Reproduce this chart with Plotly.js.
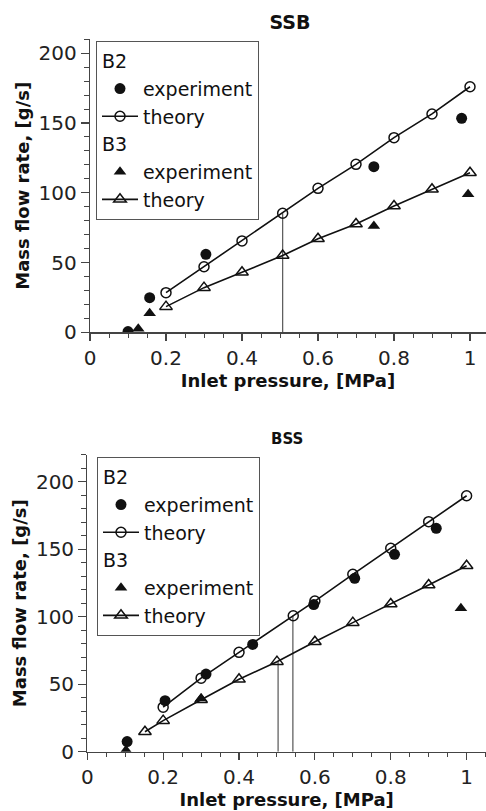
<!DOCTYPE html>
<html>
<head>
<meta charset="utf-8">
<script src="https://cdn.plot.ly/plotly-3.0.1.min.js"></script>
<style>html,body{margin:0;padding:0;background:#fff;}#chart{width:486px;height:811px;}</style>
</head>
<body>
<div id="chart"></div>
<script>
// ---- SSB panel ----
const ssbB2ExpX = [0.1, 0.157, 0.305, 0.747, 0.978];
const ssbB2ExpY = [0.5, 24.8, 55.9, 118.7, 153.4];
const ssbB2TheoryX = [0.2, 0.3, 0.4, 0.507, 0.6, 0.7, 0.8, 0.9, 1.0];
const ssbB2TheoryY = [28.4, 47, 65.5, 85.3, 103.2, 120.4, 139.5, 156.5, 176];
const ssbB3ExpX = [0.127, 0.157, 0.747, 0.995];
const ssbB3ExpY = [2.5, 13.6, 76.2, 99];
const ssbB3TheoryX = [0.2, 0.3, 0.4, 0.507, 0.6, 0.7, 0.8, 0.9, 1.0];
const ssbB3TheoryY = [18.4, 32, 43, 55, 67, 77.6, 90.5, 102.5, 114.4];
const ssbMarkX = [0.507, 0.507];
const ssbMarkY = [0, 85.3];

// ---- BSS panel ----
const bssB2ExpX = [0.105, 0.205, 0.313, 0.436, 0.597, 0.705, 0.81, 0.92];
const bssB2ExpY = [7.5, 37.8, 57.5, 79.5, 109, 128.4, 146.2, 165.5];
const bssB2TheoryX = [0.2, 0.3, 0.4, 0.543, 0.6, 0.7, 0.8, 0.9, 1.0];
const bssB2TheoryY = [33, 54.5, 73.6, 100.7, 111.6, 131.4, 150.7, 170.4, 189.6];
const bssB3ExpX = [0.102, 0.3, 0.985];
const bssB3ExpY = [1, 39.5, 106.2];
const bssB3TheoryX = [0.152, 0.2, 0.3, 0.4, 0.5, 0.6, 0.7, 0.8, 0.9, 1.0];
const bssB3TheoryY = [14.8, 23, 38.5, 53.6, 66.7, 81.5, 95.6, 109.4, 123.5, 137.8];
const bssMarkX = [0.503, 0.503, null, 0.542, 0.542];
const bssMarkY = [0, 66.7, null, 0, 100.7];

const titles = ['SSB', 'BSS'];
const xTitle = 'Inlet pressure, [MPa]';
const yTitle = 'Mass flow rate, [g/s]';

const FONT = 'DejaVu Sans, sans-serif';
const INK = '#111';
const LEG = 19;

function expTrace(x, y, sym, group, legend, xa, ya, rank, grpTitle) {
  return {
    x: x, y: y, xaxis: xa, yaxis: ya, type: 'scatter', mode: 'markers',
    name: 'experiment', legend: legend, legendgroup: group + legend, legendrank: rank,
    legendgrouptitle: {text: grpTitle, font: {size: LEG, family: FONT, color: INK}},
    marker: {symbol: sym, size: sym === 'circle' ? 11 : 11, color: INK, line: {width: 0}}
  };
}
function theoryTrace(x, y, sym, group, legend, xa, ya, rank, grpTitle) {
  return {
    x: x, y: y, xaxis: xa, yaxis: ya, type: 'scatter', mode: 'lines+markers',
    name: 'theory', legend: legend, legendgroup: group + legend, legendrank: rank,
    legendgrouptitle: {text: grpTitle, font: {size: LEG, family: FONT, color: INK}},
    line: {color: INK, width: 1.6},
    marker: {symbol: sym, size: sym === 'circle-open' ? 10 : 11, color: INK, line: {width: 1.5, color: INK}}
  };
}
function markTrace(x, y, xa, ya) {
  return {x: x, y: y, xaxis: xa, yaxis: ya, type: 'scatter', mode: 'lines',
    showlegend: false, hoverinfo: 'skip', line: {color: '#555', width: 1.2}};
}

const data = [
  markTrace(ssbMarkX, ssbMarkY, 'x', 'y'),
  expTrace(ssbB2ExpX, ssbB2ExpY, 'circle', 'B2', 'legend', 'x', 'y', 1, 'B2'),
  theoryTrace(ssbB2TheoryX, ssbB2TheoryY, 'circle-open', 'B2', 'legend', 'x', 'y', 2, 'B2'),
  theoryTrace(ssbB3TheoryX, ssbB3TheoryY, 'triangle-up-open', 'B3', 'legend', 'x', 'y', 4, 'B3'),
  expTrace(ssbB3ExpX, ssbB3ExpY, 'triangle-up', 'B3', 'legend', 'x', 'y', 3, 'B3'),

  markTrace(bssMarkX, bssMarkY, 'x2', 'y2'),
  expTrace(bssB2ExpX, bssB2ExpY, 'circle', 'B2', 'legend2', 'x2', 'y2', 1, 'B2'),
  theoryTrace(bssB2TheoryX, bssB2TheoryY, 'circle-open', 'B2', 'legend2', 'x2', 'y2', 2, 'B2'),
  theoryTrace(bssB3TheoryX, bssB3TheoryY, 'triangle-up-open', 'B3', 'legend2', 'x2', 'y2', 4, 'B3'),
  expTrace(bssB3ExpX, bssB3ExpY, 'triangle-up', 'B3', 'legend2', 'x2', 'y2', 3, 'B3')
];

const W = 486, H = 811;
function xAxis(left, range, anchor) {
  return {
    domain: [left / W, 1], range: range, anchor: anchor,
    showgrid: false, zeroline: false, showline: true, linecolor: '#444', linewidth: 1.2,
    ticks: 'outside', ticklen: 7, tickwidth: 1.2, tickcolor: '#444',
    tickvals: [0, 0.2, 0.4, 0.6, 0.8, 1], ticktext: ['0', '0.2', '0.4', '0.6', '0.8', '1'],
    minor: {dtick: 0.05, tick0: 0, ticks: 'outside', ticklen: 4, tickwidth: 1, tickcolor: '#444'},
    tickfont: {family: FONT, size: 20, color: '#222'},
    title: {text: xTitle, font: {family: FONT, size: 18, color: INK, weight: 'bold'}, standoff: 4},
    automargin: false, fixedrange: true
  };
}
function yAxis(top, bottom, range, anchor) {
  return {
    domain: [(H - bottom) / H, (H - top) / H], range: range, anchor: anchor,
    showgrid: false, zeroline: false, showline: true, linecolor: '#444', linewidth: 1.2,
    ticks: 'outside', ticklen: 8, tickwidth: 1.2, tickcolor: '#444',
    tickvals: [0, 50, 100, 150, 200],
    minor: {dtick: 10, tick0: 0, ticks: 'outside', ticklen: 5, tickwidth: 1, tickcolor: '#444'},
    tickfont: {family: FONT, size: 20, color: '#222'},
    title: {text: yTitle, font: {family: FONT, size: 18, color: INK, weight: 'bold'}, standoff: 4},
    automargin: false, fixedrange: true
  };
}

const legendCommon = {
  xanchor: 'left', yanchor: 'top', bgcolor: '#fff', bordercolor: '#555', borderwidth: 1,
  font: {family: FONT, size: LEG, color: INK}, traceorder: 'grouped', tracegroupgap: 0,
  itemwidth: 36
};

const layout = {
  width: W, height: H,
  margin: {l: 0, r: 0, t: 0, b: 0},
  paper_bgcolor: '#fff', plot_bgcolor: '#fff',
  showlegend: true,
  title: {text: titles[0], x: 290 / W, xanchor: 'center', y: 1 - 22 / H, yanchor: 'middle',
          font: {family: FONT, size: 19, color: INK, weight: 'bold'}},
  annotations: [{text: titles[1], xref: 'paper', yref: 'paper', x: 287 / W, y: 1 - 439 / H,
                 xanchor: 'center', yanchor: 'middle', showarrow: false,
                 font: {family: FONT, size: 15, color: INK, weight: 'bold'}}],
  xaxis: xAxis(90, [0, (W - 90) / 380], 'y'),
  yaxis: yAxis(39.3, 332.3, [0, 210], 'x'),
  xaxis2: xAxis(87.3, [0, (W - 87.3) / 379.3], 'y2'),
  yaxis2: yAxis(454.7, 751.7, [0, 220], 'x2'),
  legend: Object.assign({x: 96 / W, y: 1 - 41 / H}, legendCommon),
  legend2: Object.assign({x: 97 / W, y: 1 - 457 / H}, legendCommon)
};

Plotly.newPlot('chart', data, layout, {displayModeBar: false, staticPlot: true});
</script>
</body>
</html>
